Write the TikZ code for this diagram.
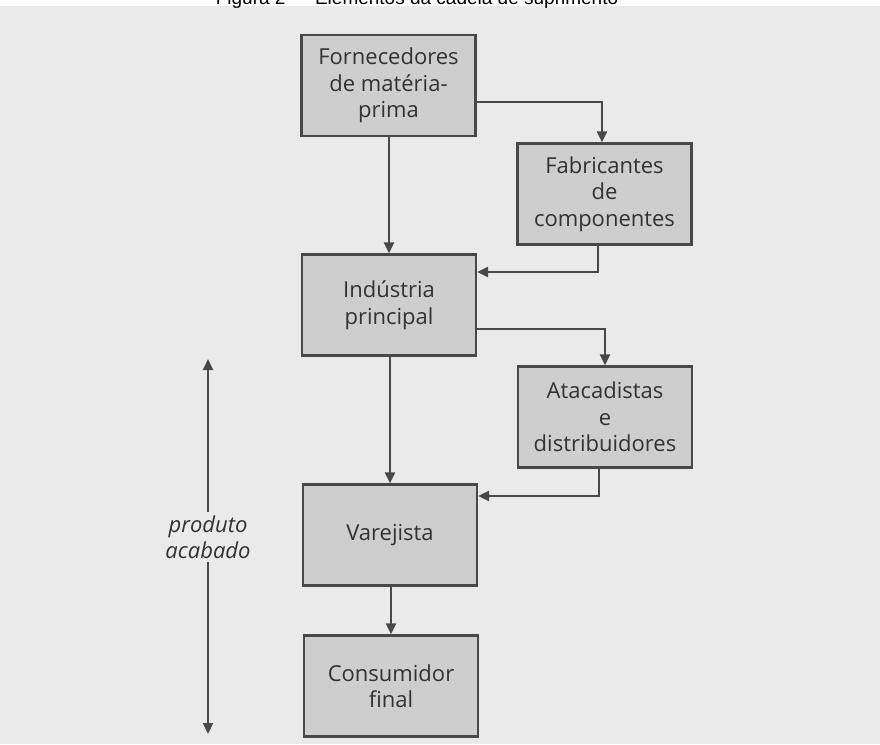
\documentclass[tikz,border=0pt]{standalone}
\usepackage{fontspec}
\setmainfont{Open Sans}
\newfontfamily\titlefont{Liberation Sans}
\usetikzlibrary{arrows.meta}
\definecolor{pagebg}{RGB}{234,234,234}
\definecolor{boxfill}{RGB}{206,206,206}
\definecolor{ink}{RGB}{72,72,72}
\definecolor{txt}{RGB}{50,50,50}
\tikzset{
  stagebox/.style={draw=ink, line width=2.2pt, fill=boxfill, text=txt,
    minimum width=174pt, minimum height=101pt, inner sep=0pt,
    align=center, font=\fontsize{22}{26.5}\selectfont},
  flow/.style={draw=ink, line width=2.2pt, -{Triangle[width=10pt,length=11pt]}},
}
\begin{document}
\begin{tikzpicture}[x=1pt,y=-1pt]
\useasboundingbox (0,0) rectangle (880,744);
\clip (0,0) rectangle (880,744);
\fill[pagebg] (0,6) rectangle (880,744);
\fill[white] (0,0) rectangle (880,6);
\node[anchor=base, font=\titlefont\fontsize{19}{22}\selectfont, text=black] (title) at (417,5) {Figura 2 — Elementos da cadeia de suprimento};

\node[stagebox] (forn) at (388.5,85.5) {Fornecedores\\de matéria-\\prima};
\node[stagebox] (fab) at (604.5,194) {Fabricantes\\de\\componentes};
\node[stagebox] (ind) at (389,305) {Indústria\\principal};
\node[stagebox] (ata) at (605,417) {Atacadistas\\e\\distribuidores};
\node[stagebox] (var) at (390,535) {Varejista};
\node[stagebox] (con) at (391,686) {Consumidor\\final};

\draw[flow] (forn.east |- 0,102) -| (fab.north -| 602,0);
\draw[flow] (forn.south -| 389,0) -- (ind.north -| 389,0);
\draw[flow] (fab.south -| 598,0) |- (ind.east |- 0,272);
\draw[flow] (ind.east |- 0,329) -| (ata.north -| 605,0);
\draw[flow] (ind.south -| 390,0) -- (var.north -| 390,0);
\draw[flow] (ata.south -| 599,0) |- (var.east |- 0,496);
\draw[flow] (var.south -| 391,0) -- (con.north -| 391,0);

\node[font=\itshape\fontsize{22}{26.5}\selectfont, text=txt, align=center] (prod) at (208,537) {produto\\acabado};
\coordinate (up) at (208,359);
\coordinate (down) at (208,734);
\draw[flow] (prod.north) -- (up);
\draw[flow] (prod.south) -- (down);
\end{tikzpicture}
\end{document}
